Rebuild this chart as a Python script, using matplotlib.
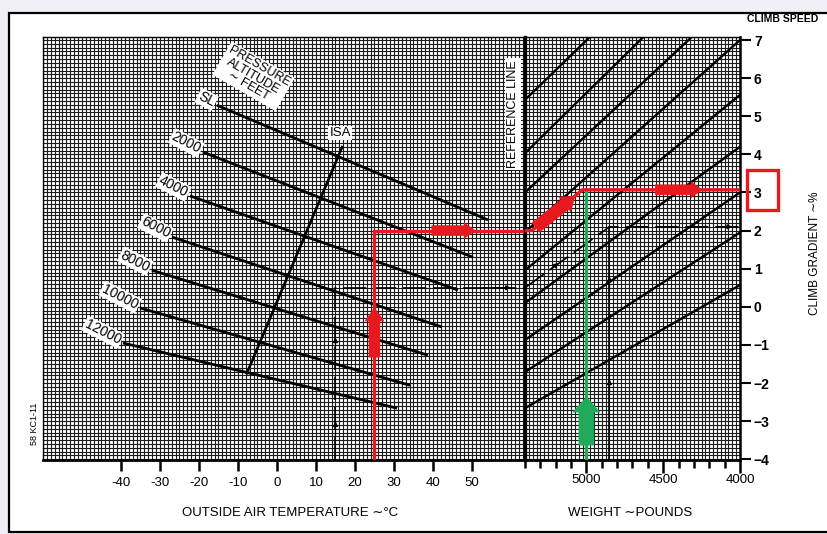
import matplotlib
matplotlib.use('Agg')
import matplotlib.pyplot as plt
from matplotlib.patches import Rectangle, FancyArrow
from matplotlib.transforms import IdentityTransform
from matplotlib.ticker import MultipleLocator

plt.rcParams['font.family'] = ['Liberation Sans', 'DejaVu Sans']

# pressure altitude lines (OAT degC, climb gradient %) start -> end
altitudes = ['SL', '2000', '4000', '6000', '8000', '10000', '12000']
alt_t0 = [-15.4, -19.0, -22.3, -26.9, -32.1, -35.1, -39.5]
alt_g0 = [5.29, 4.06, 2.91, 1.83, 0.96, -0.03, -0.95]
alt_t1 = [54.1, 50.3, 46.4, 42.3, 38.7, 34.1, 30.8]
alt_g1 = [2.28, 1.30, 0.44, -0.53, -1.27, -2.06, -2.66]

# ISA line
isa_t = [-7.7, 16.7]
isa_g = [-1.74, 4.19]

# weight guide lines: gradient at reference line (5400 lb) and at 4000 lb
ref_weight = 5400
guide_g0 = [5.43, 4.03, 3.0, 1.96, 0.96, 0.1, -0.87, -1.71, -2.66]
guide_g1 = [10.9, 9.57, 8.26, 7.0, 5.56, 4.2, 3.0, 1.95, 0.57]

oat_ticks = [-40, -30, -20, -10, 0, 10, 20, 30, 40, 50]
weight_ticks = list(range(5400, 3999, -100))
weight_labels = {5000: '5000', 4500: '4500', 4000: '4000'}
grad_ticks = list(range(-4, 8))

# worked example (red / green) and the printed sample (black)
red_oat, red_g1 = 25, 2.0
red_weight, red_g2 = 5000, 3.07
red_knee = 5355
blk_oat, blk_g1 = 15, 0.5
blk_weight, blk_g2 = 4850, 2.1

RED = '#e8191e'
GREEN = '#22aa5c'
W, H = 828, 534
YMIN, YMAX = -4.02, 7.08


def fat_arrow(ax, p0, p1, color, tail, head_w, head_l):
    # built in pixel space so the head keeps its shape on both panels
    x0, y0 = ax.transData.transform(p0)
    x1, y1 = ax.transData.transform(p1)
    arr = FancyArrow(x0, y0, x1 - x0, y1 - y0, width=tail, head_width=head_w,
                     head_length=head_l, length_includes_head=True,
                     transform=IdentityTransform(), facecolor=color,
                     edgecolor=color, lw=0.4, zorder=8)
    ax.add_artist(arr)


def small_arrow(ax, p0, p1):
    ax.annotate('', xy=p1, xytext=p0,
                arrowprops=dict(arrowstyle='-|>', color='black', lw=0.9,
                                mutation_scale=7, shrinkA=0, shrinkB=0),
                zorder=5)


fig = plt.figure(figsize=(W / 100, H / 100), dpi=100)
fig.patch.set_facecolor('#efeff6')
fig.add_artist(Rectangle((9 / W, 1 - 532 / H), 1.0, (532 - 13) / H,
                         transform=fig.transFigure, facecolor='white',
                         edgecolor='black', lw=1.6, zorder=0))

bottom = 1 - 460 / H
height = (460 - 37) / H
ax_t = fig.add_axes([43 / W, bottom, (525 - 43) / W, height])
ax_w = fig.add_axes([525 / W, bottom, (740 - 525) / W, height])

for ax in (ax_t, ax_w):
    ax.set_ylim(YMIN, YMAX)
    ax.set_yticks(grad_ticks)
    ax.yaxis.set_minor_locator(MultipleLocator(0.1))
    ax.grid(which='both', color='#1c1c1c', lw=0.8)
    ax.set_axisbelow(True)
    ax.tick_params(which='minor', length=0)
    for s in ax.spines.values():
        s.set_linewidth(1.0)
    ax.spines['bottom'].set_linewidth(2.0)

# ---- temperature panel ----
ax_t.set_xlim(-60, 63.6)
ax_t.set_xticks(oat_ticks)
ax_t.set_xticklabels([str(t) for t in oat_ticks])
ax_t.xaxis.set_minor_locator(MultipleLocator(1))
ax_t.tick_params(axis='x', which='major', direction='out', length=8,
                 width=1.8, labelsize=9.5, pad=4)
ax_t.tick_params(axis='y', which='both', left=False, labelleft=False)
ax_t.spines['right'].set_visible(False)

for lab, t0, g0, t1, g1 in zip(altitudes, alt_t0, alt_g0, alt_t1, alt_g1):
    ax_t.plot([t0, t1], [g0, g1], color='black', lw=2.0, zorder=4,
              solid_capstyle='butt')
    ax_t.annotate(lab, xy=(t0, g0), xytext=(-2, 1.5), textcoords='offset points',
                  ha='right', va='center', rotation=-27, rotation_mode='anchor',
                  fontsize=10, zorder=6,
                  bbox=dict(fc='white', ec='none', pad=0.8))
ax_t.plot(isa_t, isa_g, color='black', lw=1.9, zorder=4)
ax_t.text(16.2, 4.56, 'ISA', ha='center', va='center', fontsize=9.5, zorder=6,
          bbox=dict(fc='white', ec='none', pad=0.8))
ax_t.text(-6.0, 6.05, 'PRESSURE\nALTITUDE\n∼ FEET', ha='center', va='center',
          rotation=-30, rotation_mode='anchor', fontsize=9, linespacing=0.9,
          zorder=6, bbox=dict(fc='white', ec='none', pad=1.5))
ax_t.text(60.5, 5.05, 'REFERENCE LINE', ha='center', va='center', rotation=90,
          fontsize=9, zorder=6, bbox=dict(fc='white', ec='none', pad=1.5))

# black sample path (temperature side)
ax_t.plot([blk_oat, blk_oat, 63.6], [YMIN, blk_g1, blk_g1], color='black',
          lw=1.2, zorder=5, dashes=(14, 4))
small_arrow(ax_t, (blk_oat, -3.4), (blk_oat, -3.0))
small_arrow(ax_t, (blk_oat, -1.2), (blk_oat, -0.8))
small_arrow(ax_t, (53, blk_g1), (60, blk_g1))

# red worked path (temperature side)
ax_t.plot([red_oat, red_oat, 63.6], [YMIN, red_g1, red_g1], color=RED,
          lw=2.4, zorder=6, solid_joinstyle='miter')

# ---- weight panel ----
ax_w.set_xlim(ref_weight, 4000)
ax_w.set_xticks(weight_ticks)
ax_w.set_xticklabels([weight_labels.get(w, '') for w in weight_ticks])
ax_w.xaxis.set_minor_locator(MultipleLocator(25))
ax_w.tick_params(axis='x', which='major', direction='out', length=6,
                 width=1.8, labelsize=9.5, pad=4)
for w, tick in zip(weight_ticks, ax_w.xaxis.get_major_ticks()):
    if w in weight_labels:
        tick.tick1line.set_markersize(9)
ax_w.yaxis.tick_right()
ax_w.tick_params(axis='y', which='major', direction='out', length=8,
                 width=1.5, labelsize=10, pad=2)
for lbl in ax_w.get_yticklabels():
    lbl.set_fontweight('bold')
ax_w.spines['left'].set_linewidth(2.4)
ax_w.spines['right'].set_linewidth(1.8)

for g0, g1 in zip(guide_g0, guide_g1):
    ax_w.plot([ref_weight, 4000], [g0, g1], color='black', lw=1.7, zorder=4)

# black sample path (weight side)
ax_w.plot([ref_weight, blk_weight, 4000], [blk_g1, blk_g2, blk_g2],
          color='black', lw=1.2, zorder=5, dashes=(14, 4))
ax_w.plot([blk_weight, blk_weight], [YMIN, blk_g2], color='black', lw=1.2,
          zorder=5)
small_arrow(ax_w, (blk_weight, -2.3), (blk_weight, -1.9))
small_arrow(ax_w, (blk_weight, 0.4), (blk_weight, 0.8))
small_arrow(ax_w, (5230, 1.0), (5180, 1.15))
small_arrow(ax_w, (4150, blk_g2), (4050, blk_g2))

# red / green worked path (weight side)
ax_w.plot([red_weight, red_weight], [YMIN, red_g2], color=GREEN, lw=2.4, zorder=6)
ax_w.plot([ref_weight, red_knee, red_weight + 26, 4000],
          [red_g1, red_g1, red_g2, red_g2], color=RED, lw=2.4, zorder=6)

# fat arrows (after limits are fixed)
fat_arrow(ax_t, (red_oat, -1.32), (red_oat, -0.03), RED, 11, 19, 13)
fat_arrow(ax_t, (39.7, red_g1), (50.8, red_g1), RED, 10, 16, 11)
fat_arrow(ax_w, (5330, 2.08), (5075, 2.9), RED, 12, 19, 13)
fat_arrow(ax_w, (4552, red_g2), (4247, red_g2), RED, 10, 16, 11)
fat_arrow(ax_w, (red_weight, -3.63), (red_weight, -2.37), GREEN, 15, 27, 15)

# ---- texts outside the grid ----
fig.text(290 / W, 1 - 513 / H, 'OUTSIDE AIR TEMPERATURE ∼°C', ha='center',
         va='center', fontsize=9.5)
fig.text(630 / W, 1 - 513 / H, 'WEIGHT ∼POUNDS', ha='center', va='center',
         fontsize=9.5)
fig.text(783 / W, 1 - 19 / H, 'CLIMB SPEED', ha='center', va='center',
         fontsize=7.5, fontweight='bold')
fig.text(815 / W, 1 - 253 / H, 'CLIMB GRADIENT ∼%', ha='center', va='center',
         rotation=90, fontsize=8.5)
fig.text(35 / W, 1 - 424 / H, '58 KC1-11', ha='center', va='center',
         rotation=90, fontsize=6.5)
fig.add_artist(Rectangle((747 / W, 1 - 210 / H), 31 / W, 40 / H,
                         transform=fig.transFigure, facecolor='none',
                         edgecolor=RED, lw=2.4, zorder=10))

fig.savefig('out.png', dpi=100, facecolor=fig.get_facecolor())
